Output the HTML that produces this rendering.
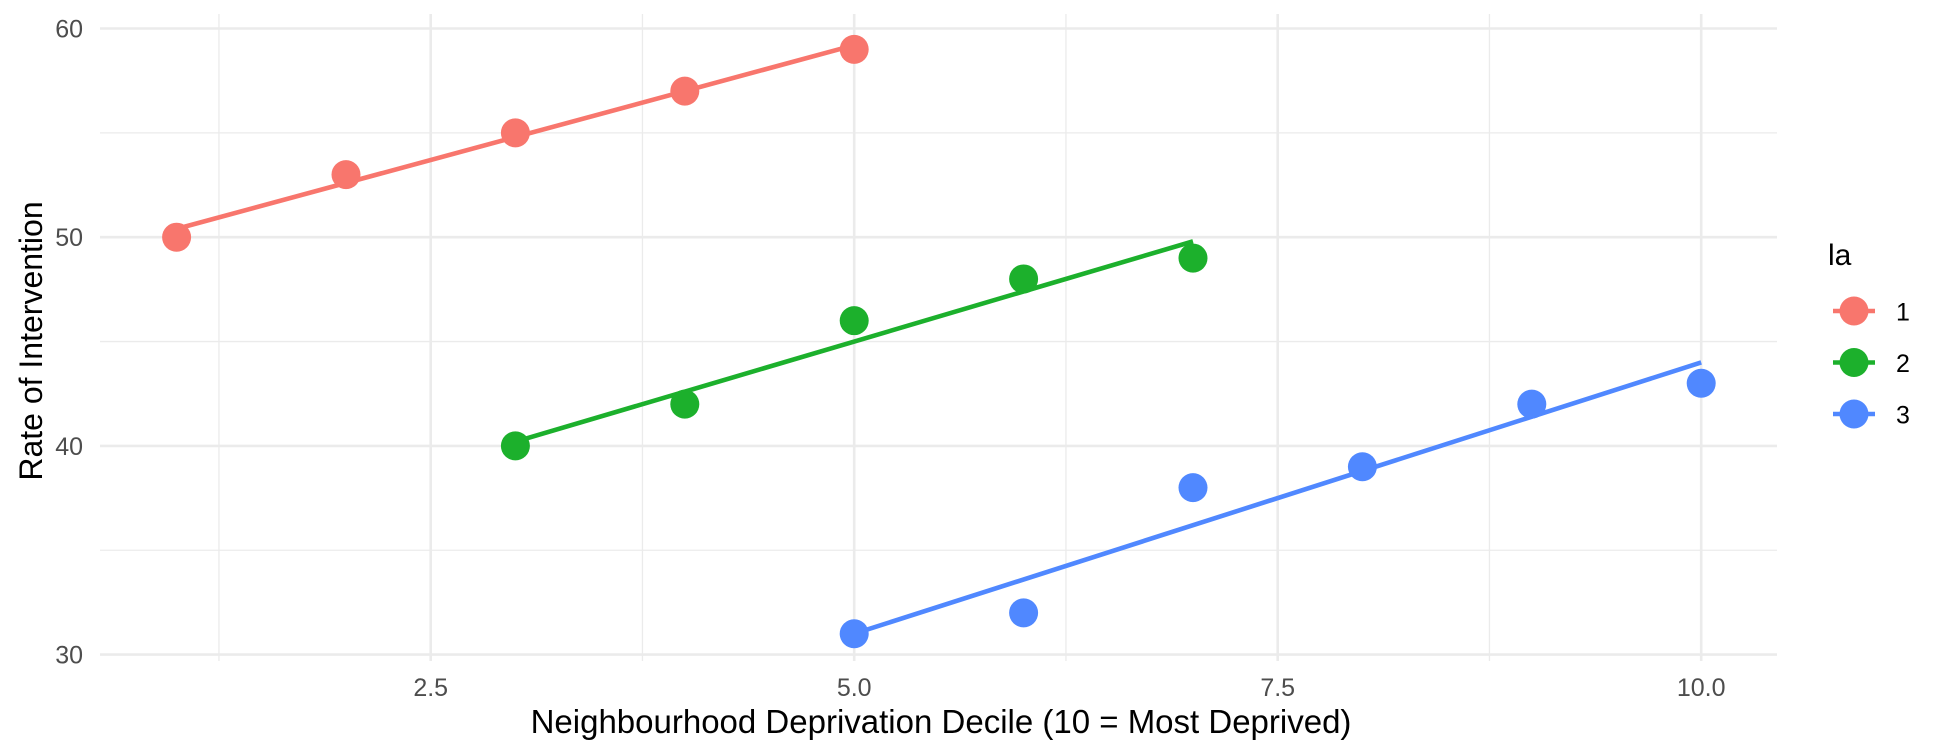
<!DOCTYPE html>
<html><head><meta charset="utf-8"><style>
body{margin:0;background:#fff;}
svg{display:block;font-family:"Liberation Sans",Arial,sans-serif;}
</style></head><body>
<svg id="chart" width="1944" height="756" viewBox="0 0 1944 756" xmlns="http://www.w3.org/2000/svg">
<g id="grid"></g>
<g id="axes"></g>
<g id="marks"></g>
<text x="941" y="733" font-size="33" text-anchor="middle" fill="#000">Neighbourhood Deprivation Decile (10 = Most Deprived)</text>
<text x="0" y="0" font-size="32" text-anchor="middle" fill="#000" transform="translate(42,341) rotate(-90)">Rate of Intervention</text>
<g id="legend">
<text x="1828" y="265" font-size="30" fill="#000">la</text>
</g>
</svg>
<script>
const groups = ["1","2","3"];
const colors = ["#F8766D","#1CB02C","#5088FF"];
const xs1 = [1,2,3,4,5];
const ys1 = [50,53,55,57,59];
const xs2 = [3,4,5,6,7];
const ys2 = [40,42,46,48,49];
const xs3 = [5,6,7,8,9,10];
const ys3 = [31,32,38,39,42,43];
const xTicks = [2.5,5,7.5,10];
const xTickLabels = ["2.5","5.0","7.5","10.0"];
const xMinor = [1.25,3.75,6.25,8.75];
const yTicks = [30,40,50,60];
const yTickLabels = ["30","40","50","60"];
const yMinor = [35,45,55];

const NS="http://www.w3.org/2000/svg";
const PL=100, PR=1777, PT=14, PB=661;
function sx(v){return 7.2+v*169.4;}
function sy(v){return 654.6-(v-30)*20.87;}
function mk(tag,attrs,parent){const e=document.createElementNS(NS,tag);for(const k in attrs)e.setAttribute(k,attrs[k]);parent.appendChild(e);return e;}
const grid=document.getElementById('grid'),axes=document.getElementById('axes'),marks=document.getElementById('marks'),legend=document.getElementById('legend');
xMinor.forEach(v=>{const l=mk('line',{x1:sx(v),x2:sx(v),y1:PT,y2:PB,stroke:'#ebebeb','stroke-width':1.3},grid);

});
yMinor.forEach(v=>{const l=mk('line',{x1:PL,x2:PR,y1:sy(v),y2:sy(v),stroke:'#ebebeb','stroke-width':1.3},grid);

});
xTicks.forEach((v,i)=>{const l=mk('line',{x1:sx(v),x2:sx(v),y1:PT,y2:PB,stroke:'#ebebeb','stroke-width':2.6},grid);


const t=mk('text',{x:sx(v),y:696,'font-size':25,'text-anchor':'middle',fill:'#4d4d4d'},axes);t.textContent=xTickLabels[i];

});
yTicks.forEach((v,i)=>{const l=mk('line',{x1:PL,x2:PR,y1:sy(v),y2:sy(v),stroke:'#ebebeb','stroke-width':2.6},grid);


const t=mk('text',{x:83,y:sy(v)+9,'font-size':25,'text-anchor':'end',fill:'#4d4d4d'},axes);t.textContent=yTickLabels[i];

});
function fit(xs,ys){const n=xs.length,mx=xs.reduce((a,b)=>a+b)/n,my=ys.reduce((a,b)=>a+b)/n;let num=0,den=0;xs.forEach((x,i)=>{num+=(x-mx)*(ys[i]-my);den+=(x-mx)*(x-mx);});const b=num/den;return [b,my-b*mx];}
const series=[[xs1,ys1],[xs2,ys2],[xs3,ys3]];
series.forEach(([xs,ys],gi)=>{
 const [b,a]=fit(xs,ys);const x0=Math.min(...xs),x1=Math.max(...xs);
 const l=mk('line',{x1:sx(x0),y1:sy(a+b*x0),x2:sx(x1),y2:sy(a+b*x1),stroke:colors[gi],'stroke-width':4.6},marks);
 
 
 xs.forEach((x,i)=>{const c=mk('circle',{cx:sx(x),cy:sy(ys[i]),r:14.5,fill:colors[gi]},marks);
 
 });
 const ly=311+gi*51.5;
 const kl=mk('line',{x1:1833,x2:1875,y1:ly,y2:ly,stroke:colors[gi],'stroke-width':4.6},legend);
 
 
 const kc=mk('circle',{cx:1854,cy:ly,r:14.5,fill:colors[gi]},legend);
 
 
 const t=mk('text',{x:1896,y:ly+9.5,'font-size':25,fill:'#000'},legend);t.textContent=groups[gi];
 
 
});
</script>
</body></html>
